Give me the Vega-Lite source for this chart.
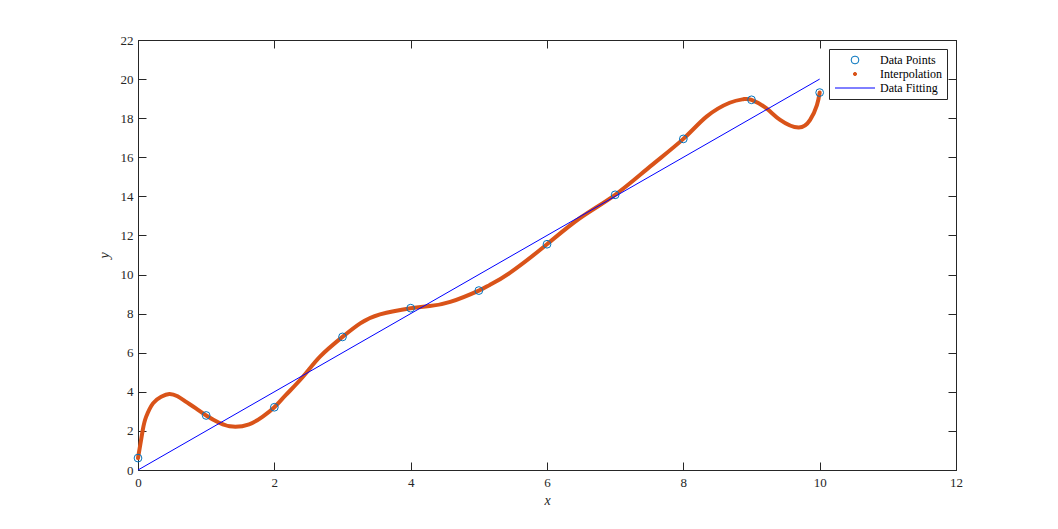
{
  "$schema": "https://vega.github.io/schema/vega-lite/v6.json",
  "autosize": {"type": "none"},
  "width": 818,
  "height": 430,
  "padding": {"left": 138, "top": 40, "right": 102, "bottom": 59},
  "background": "white",
  "config": {
    "view": {"stroke": "#262626", "strokeWidth": 1},
    "axis": {
      "domainColor": "#262626", "tickColor": "#262626", "labelColor": "#262626",
      "labelFont": "Liberation Serif", "labelFontSize": 13, "labelFlush": false,
      "titleFont": "Liberation Serif", "titleFontStyle": "italic", "titleFontWeight": "normal",
      "titleFontSize": 14, "titleColor": "#262626",
      "grid": false, "tickSize": -8, "domainWidth": 1, "tickWidth": 1
    }
  },
  "datasets": {
    "points": [
      {"x": 0, "y": 0.61}, {"x": 1, "y": 2.79}, {"x": 2, "y": 3.21}, {"x": 3, "y": 6.81},
      {"x": 4, "y": 8.28}, {"x": 5, "y": 9.18}, {"x": 6, "y": 11.55}, {"x": 7, "y": 14.08},
      {"x": 8, "y": 16.94}, {"x": 9, "y": 18.94}, {"x": 10, "y": 19.31}
    ],
    "interp": [
      {"x": 0, "y": 0.61}, {"x": 0.07, "y": 2.05}, {"x": 0.12, "y": 2.73}, {"x": 0.22, "y": 3.41},
      {"x": 0.34, "y": 3.75}, {"x": 0.46, "y": 3.89}, {"x": 0.58, "y": 3.77}, {"x": 0.7, "y": 3.5},
      {"x": 0.85, "y": 3.15}, {"x": 1.0, "y": 2.79}, {"x": 1.19, "y": 2.42}, {"x": 1.39, "y": 2.22},
      {"x": 1.63, "y": 2.34}, {"x": 1.83, "y": 2.73}, {"x": 2.0, "y": 3.21}, {"x": 2.17, "y": 3.84},
      {"x": 2.42, "y": 4.77}, {"x": 2.67, "y": 5.8}, {"x": 3.0, "y": 6.81}, {"x": 3.26, "y": 7.5},
      {"x": 3.55, "y": 7.96}, {"x": 4.0, "y": 8.28}, {"x": 4.28, "y": 8.39}, {"x": 4.58, "y": 8.6},
      {"x": 5.0, "y": 9.18}, {"x": 5.16, "y": 9.47}, {"x": 5.46, "y": 10.1}, {"x": 6.0, "y": 11.55},
      {"x": 6.48, "y": 12.88}, {"x": 7.0, "y": 14.08}, {"x": 7.51, "y": 15.52}, {"x": 8.0, "y": 16.94},
      {"x": 8.34, "y": 18.08}, {"x": 8.68, "y": 18.79}, {"x": 8.88, "y": 18.97}, {"x": 9.0, "y": 18.94},
      {"x": 9.22, "y": 18.5}, {"x": 9.42, "y": 17.91}, {"x": 9.69, "y": 17.52}, {"x": 9.86, "y": 17.91},
      {"x": 9.96, "y": 18.67}, {"x": 10.0, "y": 19.31}
    ],
    "fit": [{"x": 0, "y": 0}, {"x": 10, "y": 20}]
  },
  "resolve": {"axis": {"x": "independent", "y": "independent"}},
  "layer": [
    {
      "data": {"name": "interp"},
      "mark": {"type": "line", "strokeWidth": 4, "strokeCap": "round", "strokeJoin": "round", "interpolate": "natural"},
      "encoding": {
        "x": {"field": "x", "type": "quantitative", "scale": {"domain": [0, 12], "nice": false},
          "axis": {"orient": "bottom", "values": [0, 2, 4, 6, 8, 10, 12], "title": "x", "labelPadding": 14, "titlePadding": 4}},
        "y": {"field": "y", "type": "quantitative", "scale": {"domain": [0, 22], "nice": false},
          "axis": {"orient": "left", "values": [0, 2, 4, 6, 8, 10, 12, 14, 16, 18, 20, 22], "title": "y", "labelPadding": 13, "titlePadding": 9}},
        "color": {"datum": "Interpolation", "type": "nominal",
          "scale": {"domain": ["Data Points", "Interpolation", "Data Fitting"], "range": ["#0072BD", "#D95319", "#0000FF"]},
          "legend": {
            "title": null, "orient": "top-right", "offset": 9, "padding": 5,
            "strokeColor": "#262626", "fillColor": "white", "cornerRadius": 0,
            "labelFont": "Liberation Serif", "labelFontSize": 12, "labelColor": "black",
            "symbolSize": 1600, "rowPadding": 2, "symbolOffset": 15, "labelOffset": 19,
            "encode": {
              "symbols": {"update": {
                "shape": {"signal": "datum.value === 'Data Fitting' ? 'stroke' : 'circle'"},
                "size": {"signal": "datum.value === 'Data Fitting' ? 1600 : (datum.value === 'Interpolation' ? 10 : 60)"},
                "fill": {"signal": "datum.value === 'Interpolation' ? '#D95319' : 'transparent'"},
                "stroke": {"signal": "datum.value === 'Data Fitting' ? '#0000FF' : (datum.value === 'Data Points' ? '#0072BD' : 'transparent')"},
                "strokeWidth": {"value": 1},
                "opacity": {"value": 1}
              }}
            }
          }}
      }
    },
    {
      "data": {"name": "points"},
      "mark": {"type": "point", "filled": false, "size": 60, "strokeWidth": 1, "opacity": 1},
      "encoding": {
        "x": {"field": "x", "type": "quantitative", "scale": {"domain": [0, 12], "nice": false}, "axis": null},
        "y": {"field": "y", "type": "quantitative", "scale": {"domain": [0, 22], "nice": false}, "axis": null},
        "color": {"datum": "Data Points", "type": "nominal"}
      }
    },
    {
      "data": {"name": "fit"},
      "mark": {"type": "line", "strokeWidth": 1},
      "encoding": {
        "x": {"field": "x", "type": "quantitative", "scale": {"domain": [0, 12], "nice": false},
          "axis": {"orient": "top", "values": [0, 2, 4, 6, 8, 10, 12], "labels": false, "title": null}},
        "y": {"field": "y", "type": "quantitative", "scale": {"domain": [0, 22], "nice": false},
          "axis": {"orient": "right", "values": [0, 2, 4, 6, 8, 10, 12, 14, 16, 18, 20, 22], "labels": false, "title": null}},
        "color": {"datum": "Data Fitting", "type": "nominal"}
      }
    }
  ]
}
